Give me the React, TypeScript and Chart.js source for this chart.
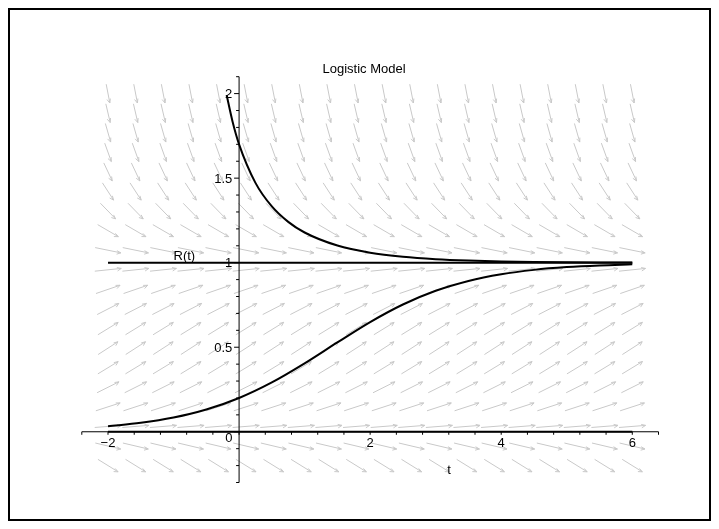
import React, { useEffect, useRef } from "react";
import { Chart, registerables } from "chart.js";

Chart.register(...registerables);

// Solution of R' = R(1 - R) through R(0) = 0.2
const lowerT = [-2, -1.5, -1, -0.5, 0, 0.5, 1, 1.5, 2, 2.5, 3, 3.5, 4, 4.5, 5, 5.5, 6];
const lowerR = [0.0327, 0.0528, 0.0842, 0.1317, 0.2, 0.2919, 0.4046, 0.5284, 0.6488, 0.7528, 0.834, 0.8922, 0.9317, 0.9575, 0.9738, 0.9839, 0.9902];

// Solution through R(0) = 1.7
const upperT = [-0.19, -0.1, 0, 0.25, 0.5, 0.75, 1, 1.5, 2, 2.5, 3, 3.5, 4, 4.5, 5, 5.5, 6];
const upperR = [1.9916, 1.8352, 1.7, 1.4721, 1.3328, 1.2415, 1.1785, 1.1012, 1.059, 1.035, 1.0209, 1.0126, 1.0076, 1.0046, 1.0028, 1.0017, 1.001];

// Equilibrium solutions R = 1 and R = 0
const equilibriumT = [-2, 6];
const equilibriumOne = [1, 1];
const equilibriumZero = [0, 0];

// Direction field grid and slope R(1 - R) on each row
const fieldT = [-2, -1.579, -1.158, -0.737, -0.316, 0.105, 0.526, 0.947, 1.368, 1.789, 2.211, 2.632, 3.053, 3.474, 3.895, 4.316, 4.737, 5.158, 5.579, 6];
const fieldR = [-0.2, -0.0842, 0.0316, 0.1474, 0.2632, 0.3789, 0.4947, 0.6105, 0.7263, 0.8421, 0.9579, 1.0737, 1.1895, 1.3053, 1.4211, 1.5368, 1.6526, 1.7684, 1.8842, 2.0];
const fieldSlope = [-0.24, -0.0913, 0.0306, 0.1257, 0.1939, 0.2353, 0.25, 0.2378, 0.1988, 0.133, 0.0403, -0.0791, -0.2254, -0.3985, -0.5984, -0.825, -1.0785, -1.3588, -1.666, -2.0];

// Axes
const tMin = -2.4;
const tMax = 6.4;
const rMin = -0.3;
const rMax = 2.1;
const tTicks = [-2.4, -2, -1.6, -1.2, -0.8, -0.4, 0, 0.4, 0.8, 1.2, 1.6, 2, 2.4, 2.8, 3.2, 3.6, 4, 4.4, 4.8, 5.2, 5.6, 6, 6.4];
const tLabelValues = [-2, 0, 2, 4, 6];
const tLabelText = ["\u22122", "0", "2", "4", "6"];
const rTicks = [-0.3, -0.2, -0.1, 0, 0.1, 0.2, 0.3, 0.4, 0.5, 0.6, 0.7, 0.8, 0.9, 1, 1.1, 1.2, 1.3, 1.4, 1.5, 1.6, 1.7, 1.8, 1.9, 2, 2.1];
const rMajor = [0, 0.5, 1, 1.5, 2];
const rLabelValues = [0.5, 1, 1.5, 2];
const rLabelText = ["0.5", "1", "1.5", "2"];

const titleText = "Logistic Model";
const xLabel = "t";
const yLabel = "R(t)";

const FONT = '13px "Liberation Sans", Arial, sans-serif';

const pts = (ts: number[], rs: number[]) => ts.map((t, i) => ({ x: t, y: rs[i] }));

const fieldPlugin = {
  id: "fieldAndAxes",
  beforeDatasetsDraw(chart: any) {
    const { ctx, scales } = chart;
    const xs = scales.x;
    const ys = scales.y;
    const X = (v: number) => xs.getPixelForValue(v);
    const Y = (v: number) => ys.getPixelForValue(v);

    ctx.save();

    // direction field arrows, sized to the grid cell
    const dt = fieldT[1] - fieldT[0];
    const dR = fieldR[1] - fieldR[0];
    const cellW = X(fieldT[1]) - X(fieldT[0]);
    const cellH = Y(fieldR[0]) - Y(fieldR[1]);
    ctx.strokeStyle = "#c9c9c9";
    ctx.lineWidth = 1;
    fieldR.forEach((r, j) => {
      const s = fieldSlope[j];
      let ux = 1 / dt;
      let uy = s / dR;
      const n = Math.hypot(ux, uy);
      ux /= n;
      uy /= n;
      const px = ux * cellW * 0.97;
      const py = -uy * cellH * 0.97;
      const ang = Math.atan2(py, px);
      fieldT.forEach((t) => {
        const cx = X(t);
        const cy = Y(r);
        const x1 = cx - px / 2;
        const y1 = cy - py / 2;
        const x2 = cx + px / 2;
        const y2 = cy + py / 2;
        ctx.beginPath();
        ctx.moveTo(x1, y1);
        ctx.lineTo(x2, y2);
        const hl = 4.5;
        ctx.moveTo(x2, y2);
        ctx.lineTo(x2 + hl * Math.cos(ang + Math.PI - 0.5), y2 + hl * Math.sin(ang + Math.PI - 0.5));
        ctx.moveTo(x2, y2);
        ctx.lineTo(x2 + hl * Math.cos(ang + Math.PI + 0.3), y2 + hl * Math.sin(ang + Math.PI + 0.3));
        ctx.stroke();
      });
    });

    // axes
    const x0 = X(0);
    const y0 = Y(0);
    ctx.strokeStyle = "#000";
    ctx.lineWidth = 1;
    ctx.beginPath();
    ctx.moveTo(X(tMin), y0);
    ctx.lineTo(X(tMax), y0);
    ctx.moveTo(x0, Y(rMin));
    ctx.lineTo(x0, Y(rMax));
    tTicks.forEach((t) => {
      const px = X(t);
      ctx.moveTo(px, y0);
      ctx.lineTo(px, y0 + 3);
    });
    rTicks.forEach((r) => {
      const py = Y(r);
      const len = rMajor.some((m) => Math.abs(m - r) < 1e-9) ? 5 : 3;
      ctx.moveTo(x0 - len, py);
      ctx.lineTo(x0, py);
    });
    ctx.stroke();

    // tick labels
    ctx.fillStyle = "#000";
    ctx.font = FONT;
    ctx.textBaseline = "alphabetic";
    tLabelValues.forEach((t, i) => {
      if (t === 0) {
        ctx.textAlign = "right";
        ctx.fillText(tLabelText[i], x0 - 6.5, y0 + 10.5);
      } else {
        ctx.textAlign = "center";
        ctx.fillText(tLabelText[i], X(t), y0 + 15.5);
      }
    });
    ctx.textAlign = "right";
    ctx.textBaseline = "middle";
    rLabelValues.forEach((r, i) => {
      ctx.fillText(rLabelText[i], x0 - 6.8, Y(r) + 1);
    });

    // title and axis labels
    ctx.textBaseline = "alphabetic";
    ctx.textAlign = "left";
    ctx.fillText(titleText, 312.5, 63.3);
    ctx.textAlign = "center";
    ctx.fillText(xLabel, 439, 464);
    ctx.textAlign = "left";
    ctx.fillText(yLabel, 163.5, 249.5);

    ctx.restore();
  },
};

export default function App() {
  const canvasRef = useRef<HTMLCanvasElement | null>(null);

  useEffect(() => {
    const canvas = canvasRef.current;
    if (!canvas) return;
    const curve = {
      showLine: true,
      pointRadius: 0,
      borderColor: "#000",
      backgroundColor: "#000",
      borderWidth: 2,
      fill: false,
      clip: false as any,
    };
    const chart = new Chart(canvas, {
      type: "scatter",
      data: {
        datasets: [
          { ...curve, data: pts(equilibriumT, equilibriumZero) },
          { ...curve, data: pts(equilibriumT, equilibriumOne) },
          { ...curve, data: pts(lowerT, lowerR), cubicInterpolationMode: "monotone" },
          { ...curve, data: pts(upperT, upperR), cubicInterpolationMode: "monotone" },
        ],
      },
      options: {
        animation: false,
        responsive: false,
        devicePixelRatio: 1,
        events: [],
        layout: { padding: { left: 71.8, right: 50.5, top: 66.7, bottom: 36.5 } },
        scales: {
          x: { type: "linear", min: tMin, max: tMax, display: false },
          y: { type: "linear", min: rMin, max: rMax, display: false },
        },
        plugins: {
          legend: { display: false },
          tooltip: { enabled: false },
          title: { display: false },
        },
      },
      plugins: [fieldPlugin],
    });
    return () => chart.destroy();
  }, []);

  return (
    <div
      style={{
        width: 703,
        height: 513,
        border: "2px solid #000",
        boxSizing: "border-box",
        background: "#fff",
      }}
    >
      <canvas ref={canvasRef} width={699} height={509} style={{ display: "block", width: 699, height: 509 }} />
    </div>
  );
}
